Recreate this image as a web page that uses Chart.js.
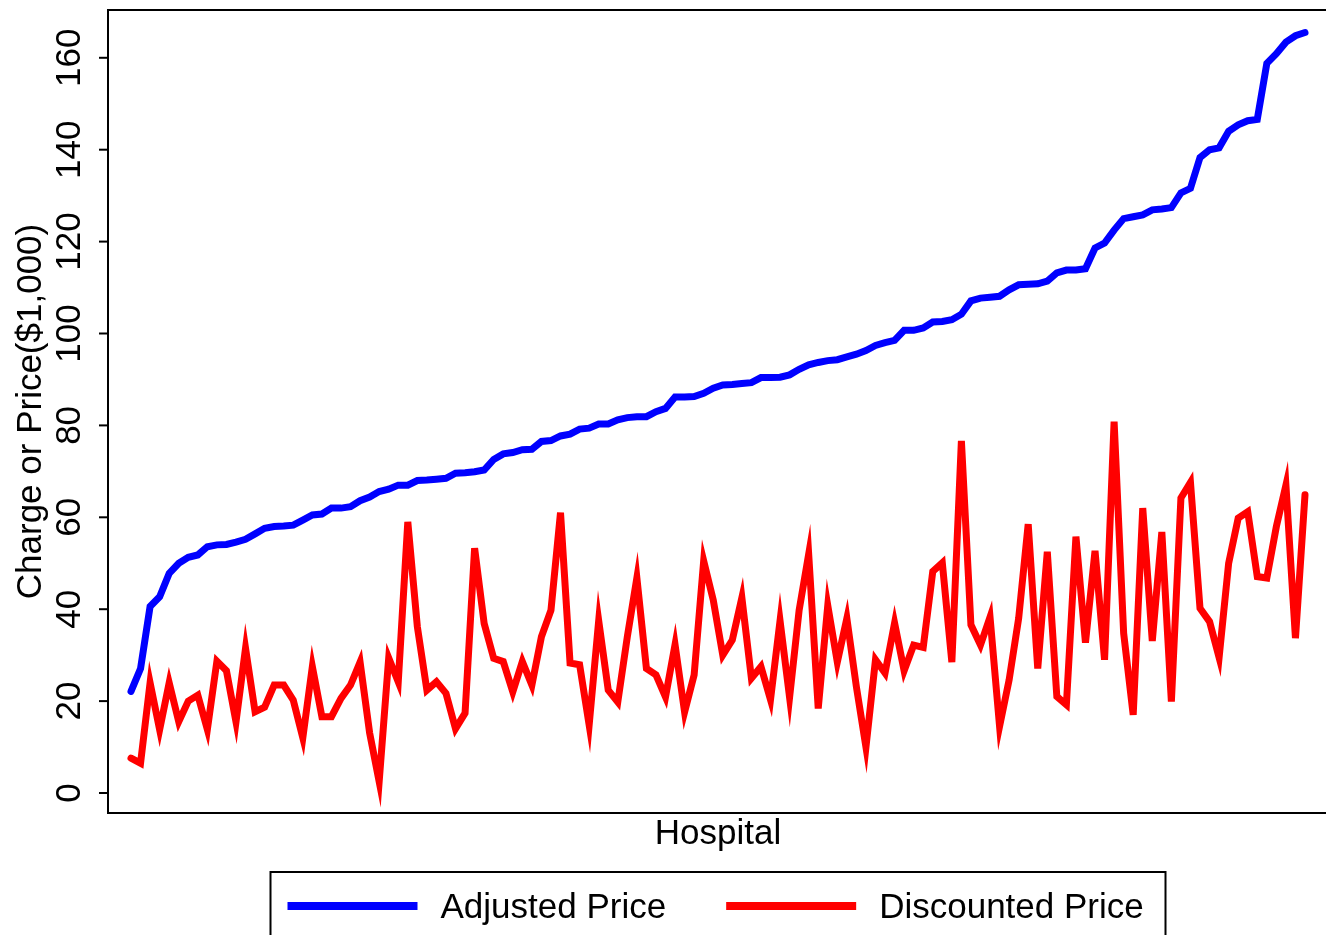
<!DOCTYPE html>
<html>
<head>
<meta charset="utf-8">
<title>Adjusted and Discounted Price by Hospital</title>
<script src="https://cdn.jsdelivr.net/npm/chart.js@4.4.1/dist/chart.umd.min.js"></script>
<style>
  html, body { margin: 0; padding: 0; background: #fff; overflow: hidden; }
  #wrap { width: 1326px; height: 935px; }
</style>
</head>
<body>
<div id="wrap"><canvas id="priceChart" width="1326" height="935"></canvas></div>
<script>
// ===== Data (in $1,000), hospitals sorted by adjusted price =====
const adjustedPrice = [
  22.1, 27.1, 40.6, 42.7, 47.8, 50.0, 51.3, 51.8, 53.6, 54.0,
  54.1, 54.6, 55.2, 56.4, 57.6, 58.0, 58.1, 58.3, 59.4, 60.5,
  60.7, 62.0, 62.0, 62.3, 63.6, 64.4, 65.6, 66.1, 67.0, 67.0,
  68.0, 68.1, 68.3, 68.5, 69.6, 69.7, 69.9, 70.3, 72.6, 73.8,
  74.1, 74.7, 74.8, 76.5, 76.7, 77.7, 78.1, 79.2, 79.4, 80.3,
  80.3, 81.2, 81.7, 81.9, 81.9, 83.0, 83.7, 86.2, 86.2, 86.3,
  87.0, 88.1, 88.8, 88.9, 89.1, 89.3, 90.4, 90.4, 90.5, 91.0,
  92.2, 93.2, 93.7, 94.1, 94.3, 94.9, 95.5, 96.3, 97.4, 98.0,
  98.5, 100.7, 100.7, 101.2, 102.5, 102.6, 103.0, 104.2, 107.1, 107.7,
  107.9, 108.1, 109.5, 110.6, 110.7, 110.8, 111.4, 113.2, 113.8, 113.8,
  114.1, 118.6, 119.7, 122.5, 125.0, 125.4, 125.8, 126.9, 127.1, 127.4,
  130.6, 131.6, 138.3, 140.0, 140.4, 144.0, 145.4, 146.3, 146.6, 158.8,
  160.9, 163.4, 164.8, 165.5
];
const discountedPrice = [
  7.6, 6.5, 24.0, 13.8, 24.0, 15.5, 20.0, 21.3, 13.8, 28.7,
  26.6, 15.5, 31.5, 17.7, 18.7, 23.5, 23.5, 20.2, 12.0, 27.5,
  16.6, 16.6, 20.6, 23.5, 28.5, 13.1, 2.5, 29.4, 24.2, 59.0,
  36.2, 22.4, 24.2, 21.7, 14.0, 17.4, 53.3, 36.9, 29.3, 28.6,
  22.0, 28.6, 23.5, 34.0, 39.8, 61.0, 28.3, 27.9, 14.8, 37.5,
  22.4, 19.8, 34.0, 46.8, 27.1, 25.7, 20.9, 32.3, 17.6, 25.7,
  50.5, 42.0, 30.0, 33.3, 42.5, 25.0, 27.5, 20.3, 37.5, 20.8,
  39.8, 52.0, 18.4, 40.8, 28.5, 38.0, 23.1, 10.0, 29.0, 26.1,
  37.0, 26.6, 32.2, 31.7, 48.2, 50.1, 28.5, 76.6, 36.6, 32.2,
  38.3, 14.5, 24.6, 38.0, 58.5, 27.1, 52.5, 21.0, 19.2, 55.8,
  32.7, 52.7, 29.0, 80.8, 34.8, 17.0, 62.0, 33.1, 56.8, 19.9,
  64.2, 67.6, 40.2, 37.3, 29.5, 50.0, 59.8, 61.2, 47.1, 46.8,
  58.0, 67.0, 33.7, 64.9
];
const hospitals = Array.from({ length: adjustedPrice.length }, (_, i) => i + 1);
const yTicks = [0, 20, 40, 60, 80, 100, 120, 140, 160];
const seriesNames = ["Adjusted Price", "Discounted Price"];
const seriesColors = ["#0000ff", "#ff0000"];

const FONT = "'Liberation Sans', Arial, sans-serif";
const FONT_SIZE = 35;

// ===== R-style frame, axis, titles and boxed legend =====
const rStyle = {
  id: "rStyle",
  afterDraw(chart) {
    const { ctx, chartArea: area } = chart;
    const yScale = chart.scales.y;
    ctx.save();
    ctx.strokeStyle = "#000";
    ctx.fillStyle = "#000";
    ctx.lineWidth = 2;

    // plot box
    ctx.strokeRect(area.left, area.top, area.right - area.left + 4, area.bottom - area.top);

    // y ticks + rotated labels
    ctx.font = FONT_SIZE + "px " + FONT;
    ctx.textAlign = "center";
    ctx.textBaseline = "alphabetic";
    yTicks.forEach((t) => {
      const py = yScale.getPixelForValue(t);
      ctx.beginPath();
      ctx.moveTo(area.left, py);
      ctx.lineTo(area.left - 9, py);
      ctx.stroke();
      ctx.save();
      ctx.translate(80, py);
      ctx.rotate(-Math.PI / 2);
      ctx.fillText(String(t), 0, 0);
      ctx.restore();
    });

    // axis titles
    ctx.save();
    ctx.translate(41, (area.top + area.bottom) / 2);
    ctx.rotate(-Math.PI / 2);
    ctx.fillText("Charge or Price($1,000)", 0, 0);
    ctx.restore();
    ctx.fillText("Hospital", (area.left + area.right + 2) / 2, 844);

    // legend
    const cx = (area.left + area.right + 2) / 2;
    const boxLeft = cx - 447.5;
    ctx.strokeRect(boxLeft, 872, 895, 90);
    ctx.textAlign = "left";
    let x = boxLeft + 17;
    chart.data.datasets.forEach((ds) => {
      ctx.strokeStyle = ds.borderColor;
      ctx.lineWidth = 8;
      ctx.beginPath();
      ctx.moveTo(x, 906);
      ctx.lineTo(x + 130, 906);
      ctx.stroke();
      x += 153;
      ctx.fillText(ds.label, x, 918);
      x += ctx.measureText(ds.label).width + 60;
    });
    ctx.restore();
  },
};

// ===== Chart =====
const ctx = document.getElementById("priceChart").getContext("2d");
const priceChart = new Chart(ctx, {
  type: "line",
  data: {
    datasets: [adjustedPrice, discountedPrice].map((values, i) => ({
      label: seriesNames[i],
      data: hospitals.map((h, k) => ({ x: h, y: values[k] })),
      borderColor: seriesColors[i],
      borderWidth: 7,
      borderJoinStyle: "miter",
      borderCapStyle: "round",
      pointRadius: 0,
      tension: 0,
      fill: false,
    })),
  },
  options: {
    responsive: false,
    devicePixelRatio: 1,
    animation: false,
    layout: { padding: { left: 108, top: 10, right: 0, bottom: 122 } },
    plugins: { legend: { display: false }, tooltip: { enabled: false } },
    scales: {
      x: { type: "linear", min: -1.41, max: 126.2, display: false },
      y: { type: "linear", min: -4.35, max: 170.4, display: false },
    },
  },
  plugins: [rStyle],
});
</script>
</body>
</html>
